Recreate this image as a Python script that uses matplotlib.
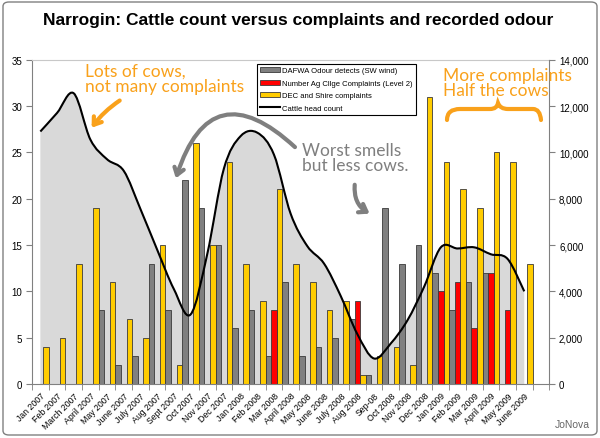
import matplotlib
matplotlib.use('Agg')
import matplotlib.pyplot as plt
from matplotlib.path import Path
from matplotlib.patches import PathPatch, FancyBboxPatch, Patch, FancyArrowPatch
from matplotlib.lines import Line2D
from matplotlib.ticker import FuncFormatter

months = ['Jan 2007', 'Feb 2007', 'March 2007', 'April 2007', 'May 2007', 'June 2007',
          'July 2007', 'Aug 2007', 'Sept 2007', 'Oct 2007', 'Nov 2007', 'Dec 2007',
          'Jan 2008', 'Feb 2008', 'Mar 2008', 'April 2008', 'May 2008', 'June 2008',
          'July 2008', 'Aug 2008', 'Sep-08', 'Oct 2008', 'Nov 2008', 'Dec 2008',
          'Jan 2009', 'Feb 2009', 'Mar 2009', 'April 2009', 'May 2009', 'June 2009']
dec_shire = [4, 5, 13, 19, 11, 7, 5, 15, 2, 26, 15, 24, 13, 9, 21, 13, 11, 8, 9, 1,
             3, 4, 2, 31, 24, 21, 19, 25, 24, 13]
dafwa = [0, 0, 0, 8, 2, 3, 13, 8, 22, 19, 15, 6, 8, 3, 11, 3, 4, 5, 7, 1,
         19, 13, 15, 12, 8, 11, 12, 0, 0, 0]
ag_college = [0, 0, 0, 0, 0, 0, 0, 0, 0, 0, 0, 0, 0, 8, 0, 0, 0, 0, 9, 0,
              0, 0, 0, 10, 11, 6, 12, 8, 0, 0]
cattle = [10900, 11700, 12550, 10550, 9700, 9200, 7550, 5800, 4100, 3000,
          5600, 9300, 10700, 10850, 9900, 7350, 5950, 5200, 3800, 2150,
          1100, 1750, 2750, 4200, 5900, 5850, 5900, 5600, 5400, 4000]

C_YEL = '#FFCC00'
C_GRY = '#808080'
C_RED = '#FF0000'
C_ORG = '#F9A11B'
EDGE = '#3a3a3a'


def smooth_path(xs, ys, close=False):
    # excel-like smoothed line drawn as bezier segments
    n = len(xs)
    verts = [(xs[0], ys[0])]
    codes = [Path.MOVETO]
    for i in range(n - 1):
        a = max(i - 1, 0)
        b = min(i + 2, n - 1)
        c1 = (xs[i] + (xs[i + 1] - xs[a]) / 6, ys[i] + (ys[i + 1] - ys[a]) / 6)
        c2 = (xs[i + 1] - (xs[b] - xs[i]) / 6, ys[i + 1] - (ys[b] - ys[i]) / 6)
        verts += [c1, c2, (xs[i + 1], ys[i + 1])]
        codes += [Path.CURVE4] * 3
    if close:
        verts += [(xs[-1], 0), (xs[0], 0), (xs[0], ys[0])]
        codes += [Path.LINETO, Path.LINETO, Path.CLOSEPOLY]
    return Path(verts, codes)


def fp(x, y):
    # pixel position (from top-left) -> figure fraction
    return (x / 600.0, 1 - y / 439.0)


fig = plt.figure(figsize=(6, 4.39), dpi=100)
plt.rcParams['font.family'] = ['Liberation Sans', 'DejaVu Sans']

ax = fig.add_axes([32 / 600, 54 / 439, 517.3 / 600, 324.3 / 439])
ax2 = ax.twinx()

idx = list(range(len(months)))
ax.set_xlim(-0.5, 30.5)
ax.set_ylim(0, 35)
ax2.set_ylim(0, 14000)

# cattle area + line (on right axis scale)
ax.add_patch(PathPatch(smooth_path(idx, cattle, close=True), transform=ax2.transData,
                       facecolor='#D9D9D9', edgecolor='none', zorder=1))

w = 1 / 3
ax.bar([i + 0.5 for i in idx], dec_shire, width=-w, align='edge', color=C_YEL,
       edgecolor=EDGE, linewidth=0.6, zorder=2)
ax.bar([i + 0.5 for i in idx], dafwa, width=w, align='edge', color=C_GRY,
       edgecolor=EDGE, linewidth=0.6, zorder=2)
ax.bar([i + 0.5 + w for i in idx], ag_college, width=w, align='edge', color=C_RED,
       edgecolor=EDGE, linewidth=0.6, zorder=2)

ax.add_patch(PathPatch(smooth_path(idx, cattle), transform=ax2.transData,
                       facecolor='none', edgecolor='black', linewidth=1.5, zorder=3))

# axes styling
ax.set_xticks(idx)
ax.set_xticklabels(months, rotation=45, ha='right', rotation_mode='anchor', fontsize=6.3)
ax.set_xticks([i - 0.5 for i in range(32)], minor=True)
ax.tick_params(axis='x', which='major', length=0, pad=5)
ax.tick_params(axis='x', which='minor', length=4, direction='out', color=C_GRY)
ax.set_yticks(range(0, 36, 5))
ax.tick_params(axis='y', labelsize=7, length=4, color=C_GRY, pad=3)
ax2.set_yticks(range(0, 14001, 2000))
ax2.yaxis.set_major_formatter(FuncFormatter(lambda v, p: f'{int(v):,}'))
ax2.tick_params(axis='y', labelsize=7, length=4, color=C_GRY, pad=3)
for s in ['left', 'bottom']:
    ax.spines[s].set_color(C_GRY)
ax.spines['top'].set_color('#c8c8c8')
ax.spines['right'].set_visible(False)
ax2.spines['right'].set_color(C_GRY)
for s in ['left', 'bottom', 'top']:
    ax2.spines[s].set_visible(False)

handles = [Patch(facecolor=C_GRY, edgecolor=EDGE, linewidth=0.6),
           Patch(facecolor=C_RED, edgecolor=EDGE, linewidth=0.6),
           Patch(facecolor=C_YEL, edgecolor=EDGE, linewidth=0.6),
           Line2D([], [], color='black', linewidth=1.5)]
labels = ['DAFWA Odour detects (SW wind)', 'Number Ag Cllge Complaints (Level 2)',
          'DEC and Shire complaints', 'Cattle head count']
leg = ax2.legend(handles, labels, loc='upper left', bbox_to_anchor=(0.434, 0.987),
                 borderaxespad=0, fontsize=5.5, fancybox=False, framealpha=1,
                 edgecolor='black', handlelength=2.6, handleheight=0.6,
                 handletextpad=0.25, labelspacing=0.7, borderpad=0.45)
leg.get_frame().set_linewidth(0.8)

# title, border, credit
fig.text(*fp(298, 20), 'Narrogin: Cattle count versus complaints and recorded odour',
         ha='center', va='center', fontsize=12.5, fontweight='bold')
fig.patches.append(FancyBboxPatch(fp(3, 436), 594 / 600, 433 / 439,
                                  boxstyle='round,pad=0,rounding_size=0.01',
                                  transform=fig.transFigure, facecolor='none',
                                  edgecolor=C_GRY, linewidth=1))
fig.text(*fp(590, 425), 'JoNova', ha='right', va='center', fontsize=7.5, color='#666666')

# hand-drawn style notes
hand = dict(family=['Lato', 'DejaVu Sans'], fontsize=12.5, va='top', linespacing=0.95)
fig.text(*fp(85, 64), 'Lots of cows,\nnot many complaints', color=C_ORG, **hand)
fig.text(*fp(443, 68), 'More complaints\nHalf the cows', color=C_ORG, **hand)
fig.text(*fp(302, 143), 'Worst smells\nbut less cows.', color='#7f7f7f', **hand)

arrows = [((122, 100), (90, 131), 'arc3,rad=0.1', C_ORG),
          ((297, 150), (175, 182), 'arc3,rad=0.8', '#7f7f7f'),
          ((355, 183), (372, 216), 'arc3,rad=0.35', '#7f7f7f')]
for start, end, conn, col in arrows:
    fig.patches.append(FancyArrowPatch(fp(*start), fp(*end), transform=fig.transFigure,
                                       connectionstyle=conn, color=col, linewidth=3,
                                       arrowstyle='->,head_length=5,head_width=3.5',
                                       capstyle='round', joinstyle='round'))

brace = [(447, 121), (447, 110), (460, 110), (478, 110), (490, 110), (497, 110),
         (498, 104), (500, 110), (508, 110), (520, 110), (533, 110), (540, 110), (541, 121)]
bcodes = [Path.MOVETO] + [Path.CURVE3, Path.CURVE3] + [Path.LINETO] * 2 + \
         [Path.CURVE3, Path.CURVE3] * 2 + [Path.LINETO] * 2 + [Path.CURVE3, Path.CURVE3]
fig.patches.append(PathPatch(Path([fp(*p) for p in brace], bcodes), transform=fig.transFigure,
                             facecolor='none', edgecolor=C_ORG, linewidth=3, capstyle='round'))

fig.savefig('out.png', dpi=100)
